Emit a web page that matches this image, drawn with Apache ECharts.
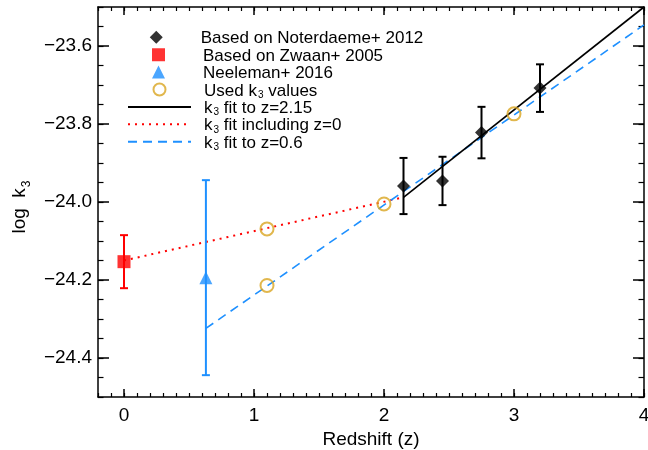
<!DOCTYPE html>
<html>
<head>
<meta charset="utf-8">
<script src="https://cdn.jsdelivr.net/npm/echarts@6/dist/echarts.min.js"></script>
<style>
html,body{margin:0;padding:0;background:#fff;}
#c{width:648px;height:450px;}
</style>
</head>
<body>
<div id="c"></div>
<script>
// ---- data ----
const noterZ = [2.15, 2.45, 2.75, 3.2];
const noterK = [-23.959, -23.946, -23.822, -23.708];
const noterErr = [0.072, 0.062, 0.066, 0.061];

const zwaanZ = [0];
const zwaanK = [-24.153];
const zwaanErr = [0.068];

const neelZ = [0.63];
const neelK = [-24.194];
const neelErr = [0.25];

const usedZ = [1.1, 1.1, 2.0, 3.0];
const usedK = [-24.069, -24.214, -24.005, -23.774];

const fit215Z = [2.15, 4.0];
const fit215K = [-23.988, -23.500];
const fitZ0Z = [0, 2.15];
const fitZ0K = [-24.150, -23.988];
const fit06Z = [0.63, 4.0];
const fit06K = [-24.324, -23.546];

const xTicks = [0, 1, 2, 3, 4];
const yTicks = [-24.4, -24.2, -24.0, -23.8, -23.6];

const legendNames = [
  'Based on Noterdaeme+ 2012',
  'Based on Zwaan+ 2005',
  'Neeleman+ 2016',
  'Used k3 values',
  'k3 fit to z=2.15',
  'k3 fit including z=0',
  'k3 fit to z=0.6'
];

const FONT = "'Liberation Sans', Arial, Helvetica, sans-serif";
const BLUE = '#1e90ff';
const GOLD = '#daa520';

function pairs(xs, ys) { return xs.map((x, i) => [x, ys[i]]); }
function errs(xs, ys, es) { return xs.map((x, i) => [x, ys[i] - es[i], ys[i] + es[i]]); }

function errSeries(data, color) {
  return {
    type: 'custom',
    xAxisIndex: 0, yAxisIndex: 0,
    data: data,
    encode: { x: 0, y: [1, 2] },
    z: 3,
    silent: true,
    renderItem: function (params, api) {
      const x = api.value(0), lo = api.value(1), hi = api.value(2);
      const p1 = api.coord([x, lo]), p2 = api.coord([x, hi]);
      const w = 4;
      const st = { stroke: color, lineWidth: 2 };
      return {
        type: 'group',
        children: [
          { type: 'line', shape: { x1: p1[0], y1: p1[1], x2: p2[0], y2: p2[1] }, style: st },
          { type: 'line', shape: { x1: p1[0] - w, y1: p1[1], x2: p1[0] + w, y2: p1[1] }, style: st },
          { type: 'line', shape: { x1: p2[0] - w, y1: p2[1], x2: p2[0] + w, y2: p2[1] }, style: st }
        ]
      };
    }
  };
}

const gridRect = { left: 98, right: 4, top: 7, bottom: 53, outerBoundsMode: 'none', containLabel: false };
const axisLineStyle = { show: true, onZero: false, lineStyle: { color: '#000', width: 1.5 } };
const noLine = { show: false, onZero: false };
const fmtY = v => (v < 0 ? '\u2212' : '') + Math.abs(v).toFixed(1);

// legend icon shapes, centred in the 63 x 13 legend icon box (so they are not stretched)
const EXT = 'M0,6.5L0.01,6.5M63,6.5L62.99,6.5';
const legendIcons = [
  'path://' + EXT + 'M24.5,6.5L31.5,-0.5L38.5,6.5L31.5,13.5Z',
  'path://' + EXT + 'M25,0L38,0L38,13L25,13Z',
  'path://' + EXT + 'M31.5,0L38,13L25,13Z',
  'path://' + EXT + 'M25.5,6.5A6,6 0 1 1 37.5,6.5A6,6 0 1 1 25.5,6.5Z',
  null, null, null
];

const legendTextStyle = {
  color: '#000', fontSize: 17, fontFamily: FONT, padding: [0, 0, 0, 8],
  rich: {
    t: { fontSize: 17, fontFamily: FONT, color: '#000', lineHeight: 14, verticalAlign: 'top', padding: [0, 0, 3.5, 0] },
    s: { fontSize: 10, fontFamily: FONT, color: '#000', lineHeight: 10, verticalAlign: 'top', padding: [7.5, 0, 0, 1] }
  }
};
function legendFormatter(name) {
  const i = name.indexOf('k3');
  if (i >= 0) {
    const pre = name.slice(0, i);
    return (pre ? '{t|' + pre + 'k}' : '{t|k}') + '{s|3}{t|' + name.slice(i + 2) + '}';
  }
  return '{t|' + name + '}{s| }';
}

const LEG_TOP = 30.3, LEG_STEP = 17.4;
const legends = legendNames.map((nm, i) => {
  const item = { name: nm };
  if (legendIcons[i]) {
    item.icon = legendIcons[i];
  } else {
    item.itemStyle = { opacity: 0, color: 'rgba(0,0,0,0)', borderWidth: 0 };
  }
  return {
    orient: 'vertical',
    left: 127, top: LEG_TOP + LEG_STEP * i,
    itemWidth: 63, itemHeight: 13, itemGap: 0,
    padding: 0,
    selectedMode: false,
    data: [item],
    formatter: legendFormatter,
    textStyle: legendTextStyle
  };
});

const chart = echarts.init(document.getElementById('c'), null, { renderer: 'canvas' });

const option = {
  backgroundColor: '#fff',
  animation: false,
  textStyle: { fontFamily: FONT },
  grid: [
    Object.assign({}, gridRect),
    Object.assign({}, gridRect)
  ],
  xAxis: [
    {
      type: 'value', gridIndex: 0, position: 'bottom', min: -0.2, max: 4,
      axisLine: axisLineStyle,
      axisTick: { show: true, inside: true, length: 8, customValues: xTicks, lineStyle: { color: '#000', width: 1.5 } },
      axisLabel: { show: true, customValues: xTicks, margin: 9, color: '#000', fontSize: 19, fontFamily: FONT, formatter: v => String(v) },
      splitLine: { show: false },
      name: 'Redshift (z)', nameLocation: 'middle', nameGap: 31,
      nameTextStyle: { color: '#000', fontSize: 19, fontFamily: FONT }
    },
    {
      type: 'value', gridIndex: 0, position: 'top', min: -0.2, max: 4,
      axisLine: axisLineStyle,
      axisTick: { show: true, inside: true, length: 8, customValues: xTicks, lineStyle: { color: '#000', width: 1.5 } },
      axisLabel: { show: false },
      splitLine: { show: false }
    },
    {
      type: 'value', gridIndex: 1, position: 'bottom', min: -0.2, max: 4, interval: 0.1,
      axisLine: noLine,
      axisTick: { show: true, inside: true, length: 4, lineStyle: { color: '#000', width: 1.2 } },
      axisLabel: { show: false },
      splitLine: { show: false }
    },
    {
      type: 'value', gridIndex: 1, position: 'top', min: -0.2, max: 4, interval: 0.1,
      axisLine: noLine,
      axisTick: { show: true, inside: true, length: 4, lineStyle: { color: '#000', width: 1.2 } },
      axisLabel: { show: false },
      splitLine: { show: false }
    }
  ],
  yAxis: [
    {
      type: 'value', gridIndex: 0, position: 'left', min: -24.5, max: -23.5,
      axisLine: axisLineStyle,
      axisTick: { show: true, inside: true, length: 11, customValues: yTicks, lineStyle: { color: '#000', width: 1.5 } },
      axisLabel: { show: true, customValues: yTicks, margin: 6, color: '#000', fontSize: 19, fontFamily: FONT, formatter: fmtY },
      splitLine: { show: false },
      name: '{t|log  k}{s|3}', nameLocation: 'middle', nameGap: 65, nameRotate: 90,
      nameTextStyle: {
        color: '#000', fontSize: 19, fontFamily: FONT, padding: [0, 10, 0, 0],
        rich: {
          t: { fontSize: 19, fontFamily: FONT, color: '#000', lineHeight: 19, verticalAlign: 'top' },
          s: { fontSize: 12, fontFamily: FONT, color: '#000', lineHeight: 12, verticalAlign: 'top', padding: [11, 0, 0, 1] }
        }
      }
    },
    {
      type: 'value', gridIndex: 0, position: 'right', min: -24.5, max: -23.5,
      axisLine: axisLineStyle,
      axisTick: { show: true, inside: true, length: 11, customValues: yTicks, lineStyle: { color: '#000', width: 1.5 } },
      axisLabel: { show: false },
      splitLine: { show: false }
    },
    {
      type: 'value', gridIndex: 1, position: 'left', min: -24.5, max: -23.5, interval: 0.05,
      axisLine: noLine,
      axisTick: { show: true, inside: true, length: 5.5, lineStyle: { color: '#000', width: 1.2 } },
      axisLabel: { show: false },
      splitLine: { show: false }
    },
    {
      type: 'value', gridIndex: 1, position: 'right', min: -24.5, max: -23.5, interval: 0.05,
      axisLine: noLine,
      axisTick: { show: true, inside: true, length: 5.5, lineStyle: { color: '#000', width: 1.2 } },
      axisLabel: { show: false },
      splitLine: { show: false }
    }
  ],
  legend: legends,
  series: [
    {
      name: legendNames[5], type: 'line', xAxisIndex: 0, yAxisIndex: 0,
      data: pairs(fitZ0Z, fitZ0K), symbol: 'none', showSymbol: false, z: 2,
      lineStyle: { color: '#ff0000', width: 2, type: [2, 5] }, itemStyle: { color: '#ff0000' }
    },
    {
      name: legendNames[6], type: 'line', xAxisIndex: 0, yAxisIndex: 0,
      data: pairs(fit06Z, fit06K), symbol: 'none', showSymbol: false, z: 2,
      lineStyle: { color: BLUE, width: 1.6, type: [9, 6] }, itemStyle: { color: BLUE }
    },
    {
      name: legendNames[4], type: 'line', xAxisIndex: 0, yAxisIndex: 0,
      data: pairs(fit215Z, fit215K), symbol: 'none', showSymbol: false, z: 2,
      lineStyle: { color: '#000', width: 1.6, type: 'solid' }, itemStyle: { color: '#000' }
    },
    errSeries(errs(noterZ, noterK, noterErr), '#000'),
    errSeries(errs(zwaanZ, zwaanK, zwaanErr), '#ff0000'),
    errSeries(errs(neelZ, neelK, neelErr), BLUE),
    {
      name: legendNames[0], type: 'scatter', xAxisIndex: 0, yAxisIndex: 0,
      data: pairs(noterZ, noterK), symbol: 'diamond', symbolSize: 13, z: 5,
      itemStyle: { color: '#000' }
    },
    {
      name: legendNames[1], type: 'scatter', xAxisIndex: 0, yAxisIndex: 0,
      data: pairs(zwaanZ, zwaanK), symbol: 'rect', symbolSize: 13, z: 5,
      itemStyle: { color: '#ff0000' }
    },
    {
      name: legendNames[2], type: 'scatter', xAxisIndex: 0, yAxisIndex: 0,
      data: pairs(neelZ, neelK), symbol: 'triangle', symbolSize: 13, z: 5,
      itemStyle: { color: BLUE }
    },
    {
      name: legendNames[3], type: 'scatter', xAxisIndex: 0, yAxisIndex: 0,
      data: pairs(usedZ, usedK), symbol: 'circle', symbolSize: 13, z: 5,
      itemStyle: { color: 'rgba(0,0,0,0)', borderColor: GOLD, borderWidth: 2 }
    }
  ]
};

chart.setOption(option);
</script>
</body>
</html>
